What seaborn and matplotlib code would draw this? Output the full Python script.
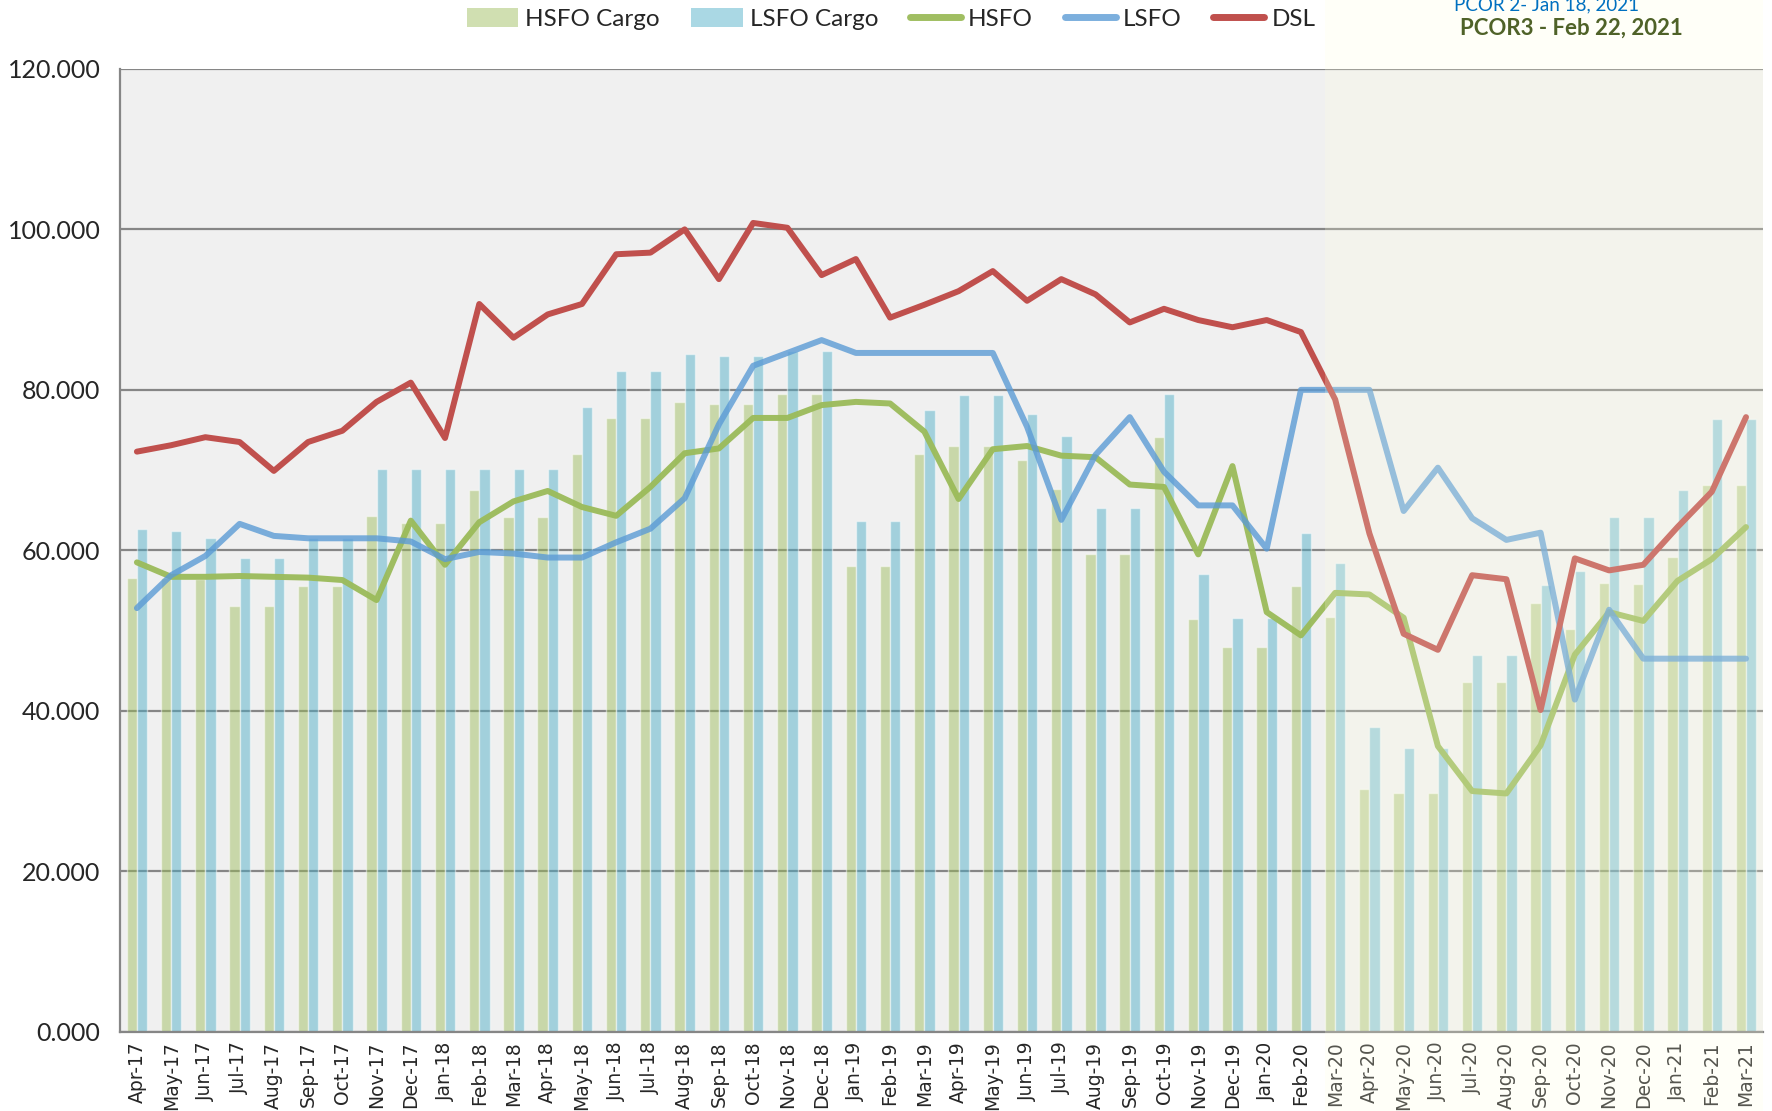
import numpy as np
import pandas as pd
import matplotlib
matplotlib.use("Agg")
import matplotlib.pyplot as plt
import matplotlib.transforms as mtransforms
from matplotlib.patches import Patch, Rectangle
from matplotlib.lines import Line2D
from matplotlib.ticker import FuncFormatter, FixedLocator
import seaborn as sns

months = ['Apr-17', 'May-17', 'Jun-17', 'Jul-17', 'Aug-17', 'Sep-17', 'Oct-17', 'Nov-17', 'Dec-17', 'Jan-18', 'Feb-18', 'Mar-18',
          'Apr-18', 'May-18', 'Jun-18', 'Jul-18', 'Aug-18', 'Sep-18', 'Oct-18', 'Nov-18', 'Dec-18', 'Jan-19', 'Feb-19', 'Mar-19',
          'Apr-19', 'May-19', 'Jun-19', 'Jul-19', 'Aug-19', 'Sep-19', 'Oct-19', 'Nov-19', 'Dec-19', 'Jan-20', 'Feb-20', 'Mar-20',
          'Apr-20', 'May-20', 'Jun-20', 'Jul-20', 'Aug-20', 'Sep-20', 'Oct-20', 'Nov-20', 'Dec-20', 'Jan-21', 'Feb-21', 'Mar-21']

hsfo_cargo = [56.6, 56.6, 56.4, 53.1, 53.1, 55.5, 55.5, 64.3, 63.4, 63.4, 67.5, 64.1,
              64.1, 72.0, 76.5, 76.5, 78.5, 78.2, 78.2, 79.5, 79.5, 58.1, 58.1, 72.0,
              73.0, 73.0, 71.2, 67.7, 59.5, 59.5, 74.1, 51.5, 47.9, 47.9, 55.6, 51.7,
              30.3, 29.8, 29.8, 43.6, 43.6, 53.4, 50.2, 55.9, 55.8, 59.2, 68.1, 68.1]
lsfo_cargo = [62.6, 62.4, 61.5, 59.1, 59.1, 61.5, 61.5, 70.1, 70.1, 70.1, 70.1, 70.1,
              70.1, 77.9, 82.4, 82.4, 84.5, 84.2, 84.2, 84.9, 84.9, 63.7, 63.7, 77.5,
              79.3, 79.3, 77.0, 74.2, 65.3, 65.3, 79.5, 57.0, 51.6, 51.6, 62.1, 58.4,
              38.0, 35.4, 35.4, 47.0, 47.0, 55.7, 57.4, 64.1, 64.1, 67.5, 76.4, 76.4]
hsfo = [58.5, 56.7, 56.7, 56.8, 56.7, 56.6, 56.3, 53.8, 63.7, 58.2, 63.5, 66.1,
        67.4, 65.4, 64.3, 67.9, 72.1, 72.7, 76.5, 76.5, 78.1, 78.5, 78.3, 74.8,
        66.4, 72.6, 73.0, 71.8, 71.6, 68.2, 67.9, 59.5, 70.5, 52.3, 49.4, 54.7,
        54.5, 51.6, 35.6, 30.0, 29.7, 35.7, 47.0, 52.3, 51.2, 56.2, 58.9, 62.9]
lsfo = [52.8, 56.9, 59.3, 63.3, 61.8, 61.5, 61.5, 61.5, 61.1, 58.9, 59.8, 59.6,
        59.1, 59.1, 61.0, 62.7, 66.5, 75.7, 83.0, 84.6, 86.2, 84.6, 84.6, 84.6,
        84.6, 84.6, 75.4, 63.8, 71.9, 76.6, 69.8, 65.6, 65.6, 60.2, 80.0, 80.0,
        80.0, 64.9, 70.3, 64.0, 61.3, 62.2, 41.4, 52.6, 46.5, 46.5, 46.5, 46.5]
dsl = [72.3, 73.1, 74.1, 73.5, 69.9, 73.5, 74.9, 78.5, 80.9, 74.0, 90.7, 86.5,
       89.4, 90.7, 96.9, 97.1, 100.0, 93.8, 100.8, 100.2, 94.3, 96.3, 89.0, 90.6,
       92.3, 94.8, 91.1, 93.8, 91.9, 88.4, 90.1, 88.7, 87.8, 88.7, 87.2, 78.8,
       62.1, 49.6, 47.6, 56.9, 56.4, 40.1, 59.0, 57.5, 58.2, 62.9, 67.3, 76.6]

bar_names = ['HSFO Cargo', 'LSFO Cargo']
bar_colors = ['#9bbb59', '#4bacc6']
line_names = ['HSFO', 'LSFO', 'DSL']
line_colors = ['#9bbb59', '#5b9bd5', '#c0504d']
line_alpha = [0.95, 0.8, 1.0]
grid_col = '#868686'

sns.set_style("white")
plt.rcParams['font.family'] = ['Lato', 'DejaVu Sans']

fig = plt.figure(figsize=(17.72, 11.11), dpi=100)
ax = fig.add_axes([0.0676, 0.0713, 0.9274, 0.8667])
ax.set_facecolor('#f0f0f0')

bars = pd.DataFrame({
    'month': months * 2,
    'value': hsfo_cargo + lsfo_cargo,
    'series': [bar_names[0]] * len(months) + [bar_names[1]] * len(months),
})
sns.barplot(data=bars, x='month', y='value', hue='series', order=months,
            hue_order=bar_names, palette=bar_colors, width=0.6, saturation=1,
            alpha=0.47, legend=False, ax=ax, zorder=2)

xpos = np.arange(len(months))
for vals, name, col, a in zip([hsfo, lsfo, dsl], line_names, line_colors, line_alpha):
    sns.lineplot(x=xpos, y=vals, color=col, lw=4.3, alpha=a, ax=ax, zorder=3,
                 solid_capstyle='round', solid_joinstyle='round')

ax.set_xlim(-0.5, len(months) - 0.5)
ax.set_ylim(0, 120)
ax.set_xlabel('')
ax.set_ylabel('')

ax.yaxis.set_major_locator(FixedLocator(np.arange(0, 121, 20)))
ax.yaxis.set_major_formatter(FuncFormatter(lambda v, p: f'{v:.3f}'))
ax.grid(axis='y', color=grid_col, lw=1.6, zorder=1)
ax.set_axisbelow(True)

ax.set_xticks(xpos)
ax.set_xticklabels(months, rotation=90, fontsize=13.5, family='DejaVu Sans')
ax.xaxis.set_minor_locator(FixedLocator(np.arange(-0.5, len(months), 1)))
ax.tick_params(axis='x', which='major', length=0, pad=7)
ax.tick_params(axis='x', which='minor', length=7, width=1.4, color=grid_col, direction='out')
ax.tick_params(axis='y', length=8, width=1.4, color=grid_col, direction='out', labelsize=18, pad=6)

for s in ['top', 'right']:
    ax.spines[s].set_visible(False)
for s in ['left', 'bottom']:
    ax.spines[s].set_color(grid_col)
    ax.spines[s].set_linewidth(1.6)

# shaded forecast period
shade_start = months.index('Mar-20') - 0.3
trans = mtransforms.blended_transform_factory(ax.transData, fig.transFigure)
fig.add_artist(Rectangle((shade_start, 0), len(months) - 0.5 - shade_start, 1,
                         transform=trans, facecolor='#ffffe1', alpha=0.22,
                         edgecolor='none', zorder=1))

handles = [Patch(facecolor=c, alpha=0.47, edgecolor='none') for c in bar_colors]
handles += [Line2D([], [], color=c, lw=5, alpha=a, solid_capstyle='round')
            for c, a in zip(line_colors, line_alpha)]
fig.legend(handles, bar_names + line_names, loc='center', bbox_to_anchor=(0.503, 0.983),
           ncol=5, frameon=False, fontsize=17.5, handlelength=2.1, handleheight=0.8,
           handletextpad=0.3, columnspacing=1.3)

fig.text(0.8725, 1 - 10 / 1111, 'PCOR 2- Jan 18, 2021', color='#0070c0', fontsize=13.5,
         ha='center', va='baseline')
fig.text(0.8866, 0.975, 'PCOR3 - Feb 22, 2021', color='#4f6228', fontsize=16,
         fontweight='bold', ha='center', va='center')

fig.savefig('out.png', dpi=100)
